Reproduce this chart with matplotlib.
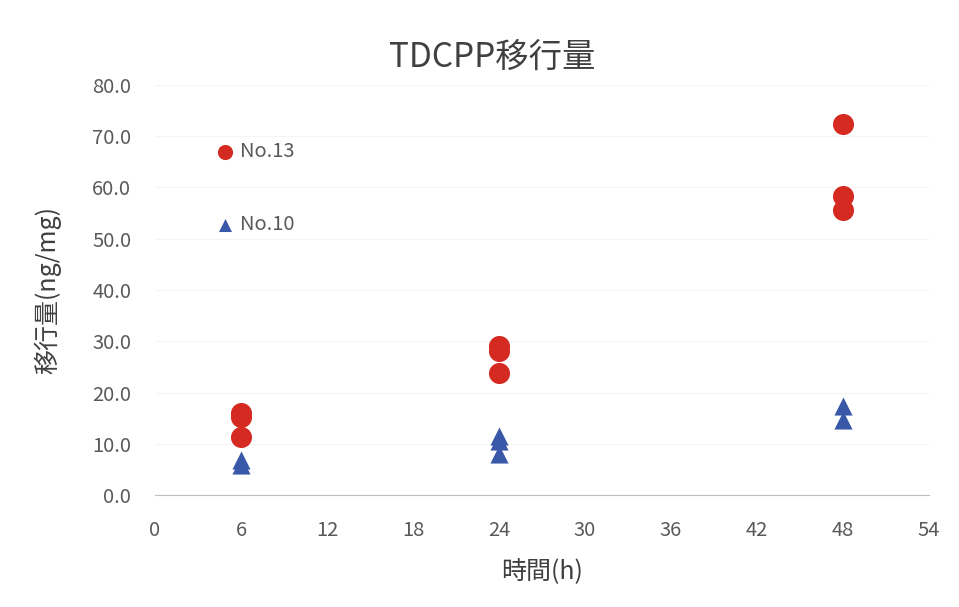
import matplotlib
matplotlib.use("Agg")
import matplotlib.pyplot as plt
from matplotlib.ticker import FormatStrFormatter

plt.rcParams['font.family'] = ['Noto Sans CJK JP', 'DejaVu Sans']

title = "TDCPP移行量"
xlabel = "時間(h)"
ylabel = "移行量(ng/mg)"

no13_x = [6, 6, 6, 24, 24, 24, 48, 48, 48]
no13_y = [16.0, 15.2, 11.3, 29.0, 28.0, 23.8, 72.4, 58.3, 55.6]
no10_x = [6, 6, 24, 24, 24, 48, 48]
no10_y = [6.8, 5.8, 11.5, 10.5, 8.0, 17.4, 14.6]

xticks = [0, 6, 12, 18, 24, 30, 36, 42, 48, 54]
yticks = [0, 10, 20, 30, 40, 50, 60, 70, 80]

fig = plt.figure(figsize=(9.59, 6.07), dpi=100)
ax = fig.add_axes([0.1616, 0.1845, 0.8071, 0.6755])

ax.scatter(no13_x, no13_y, s=230, marker='o', color='#d42a22', label='No.13', zorder=3, linewidths=0)
ax.scatter(no10_x, no10_y, s=170, marker='^', color='#3a58a8', label='No.10', zorder=3, linewidths=0)

ax.set_xlim(0, 54)
ax.set_ylim(0, 80)
ax.set_xticks(xticks)
ax.set_yticks(yticks)
ax.yaxis.set_major_formatter(FormatStrFormatter('%.1f'))
ax.tick_params(axis='both', length=0, labelsize=14.5, colors='#595959')
ax.tick_params(axis='x', pad=18)
ax.tick_params(axis='y', pad=17)
ax.grid(axis='y', color='#f4f4f4', linewidth=0.8)
ax.set_axisbelow(True)
for s in ['top', 'right', 'left']:
    ax.spines[s].set_visible(False)
ax.spines['bottom'].set_color('#bfbfbf')

fig.text(492 / 959, 1 - 57 / 607, title, fontsize=24, color='#404040', ha='center', va='center')
ax.set_xlabel(xlabel, fontsize=18, color='#404040', labelpad=12)
ax.set_ylabel(ylabel, fontsize=18, color='#404040', labelpad=22)

leg = ax.legend(loc='upper left', bbox_to_anchor=(0.064, 0.888), frameon=False,
                fontsize=14.5, labelspacing=2.6, handletextpad=0.25, handlelength=1.0,
                borderpad=0, markerscale=0.72)
for t in leg.get_texts():
    t.set_color('#595959')

fig.savefig("out.png", dpi=100, facecolor='white')
